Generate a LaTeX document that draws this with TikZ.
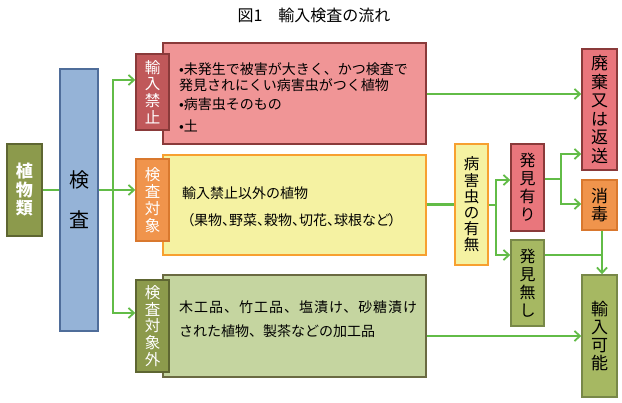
\documentclass[tikz,border=0pt]{standalone}
\usepackage{fontspec}
\setmainfont{Noto Sans CJK JP}
\newfontfamily\jpp[RawFeature=+palt]{Noto Sans CJK JP}
\usetikzlibrary{arrows.meta}
\definecolor{grn}{HTML}{62BC47}
\definecolor{oliveF}{HTML}{8C9A4C}\definecolor{oliveD}{HTML}{5E6632}
\definecolor{blueF}{HTML}{95B3D7}\definecolor{blueD}{HTML}{4F6D9A}
\definecolor{redT}{HTML}{C0585A}\definecolor{redD}{HTML}{8A3A3A}
\definecolor{pinkF}{HTML}{F09596}
\definecolor{orgF}{HTML}{F0944C}\definecolor{orgD}{HTML}{D9782E}
\definecolor{yelF}{HTML}{F5F2A2}\definecolor{yelD}{HTML}{F7A030}
\definecolor{lgF}{HTML}{C5D5A0}\definecolor{lgD}{HTML}{6A6A42}
\definecolor{rosF}{HTML}{E9767C}
\definecolor{mgF}{HTML}{A6B862}\definecolor{mgD}{HTML}{788848}
\tikzset{
  bx/.style={draw, line width=1.4pt, inner sep=0pt, align=center},
  body/.style={inner sep=0pt, anchor=west, font=\fontsize{14}{16}\selectfont},
  ln/.style={draw=grn, line width=1.8pt},
  ar/.style={ln, -{Straight Barb[length=5.5pt,width=10pt]}},
  ar2/.style={ln, {Straight Barb[length=5.5pt,width=10pt]}-{Straight Barb[length=5.5pt,width=10pt]}},
}
\newcommand{\vtext}[2]{\fontsize{#1}{#2}\selectfont}
\begin{document}
\begin{tikzpicture}[x=1pt,y=-1pt]
\useasboundingbox (0,0) rectangle (622,403);
\fill[white] (0,0) rectangle (622,403);
% title
\node[inner sep=0pt, font=\fontsize{16}{16}\selectfont] (title) at (314,15) {図1　輸入検査の流れ};
% left nodes
\node[bx, fill=oliveF, draw=oliveD, minimum width=35pt, minimum height=92pt, text=white, font=\bfseries\vtext{17}{18.5}] (plants) at (24.5,190) {植\\物\\類};
\node[bx, fill=blueF, draw=blueD, minimum width=38pt, minimum height=262pt, font=\vtext{20}{40}] (kensa) at (79,200) {検\\査};
% big boxes
\node[bx, fill=pinkF, draw=redD, minimum width=263pt, minimum height=101pt] (pinkbox) at (294.5,93.5) {};
\node[bx, fill=yelF, draw=yelD, minimum width=263pt, minimum height=100pt] (yelbox) at (294.5,205) {};
\node[bx, fill=lgF, draw=lgD, minimum width=263pt, minimum height=102pt] (grnbox) at (294.5,326) {};
% tabs
\node[bx, fill=redT, draw=redD, minimum width=33pt, minimum height=76pt, text=white, font=\vtext{15.5}{16.8}] (tabA) at (152.5,92) {輸\\入\\禁\\止};
\node[bx, fill=orgF, draw=orgD, minimum width=33pt, minimum height=82pt, text=white, font=\vtext{15.5}{16.8}] (tabB) at (152.5,200) {検\\査\\対\\象};
\node[bx, fill=oliveF, draw=oliveD, minimum width=33pt, minimum height=92pt, text=white, font=\vtext{15.5}{16.8}] (tabC) at (152.5,326) {検\\査\\対\\象\\外};
% box texts
\node[body] (pA1) at (179,69) {•未発生で被害が大きく、かつ検査で};
\node[body] (pA2) at (179,85) {発見されにくい病害虫がつく植物};
\node[body] (pA3) at (179,104) {•病害虫そのもの};
\node[body] (pA4) at (179,126) {•土};
\node[body] (pB1) at (182,193) {輸入禁止以外の植物};
\node[body, font=\jpp\fontsize{14}{16}\selectfont] (pB2) at (187,220) {（果物、野菜、穀物、切花、球根など）};
\node[body, font=\fontsize{14}{16}\selectfont\addfontfeature{LetterSpace=7}] (pC1) at (179,307) {木工品、竹工品、塩漬け、砂糖漬け};
\node[body] (pC2) at (179,331) {された植物、製茶などの加工品};
% right side
\node[bx, fill=yelF, draw=yelD, minimum width=33pt, minimum height=121pt, font=\vtext{15.5}{16.2}] (byo) at (471.5,204.5) {病\\害\\虫\\の\\有\\無};
\node[bx, fill=rosF, draw=redD, minimum width=33pt, minimum height=87pt, font=\vtext{16}{18}] (ari) at (527.5,187.5) {発\\見\\有\\り};
\node[bx, fill=mgF, draw=mgD, minimum width=33pt, minimum height=86pt, font=\vtext{16}{18}] (nashi) at (527.5,283) {発\\見\\無\\し};
\node[bx, fill=rosF, draw=redD, minimum width=35pt, minimum height=121pt, font=\vtext{17}{18.5}] (haiki) at (599.5,109.5) {廃\\棄\\又\\は\\返\\送};
\node[bx, fill=orgF, draw=orgD, minimum width=35pt, minimum height=50pt, font=\vtext{17}{18.5}] (shodoku) at (599.5,205) {消\\毒};
\node[bx, fill=mgF, draw=mgD, minimum width=35pt, minimum height=122pt, font=\vtext{17}{18}] (yunyu) at (599.5,336) {輸\\入\\可\\能};
% coordinates
\coordinate (vt) at (113,80);
\coordinate (vb) at (113,313);
\coordinate (s1) at (496,205);
\coordinate (s2) at (561,179);
\coordinate (s3) at (602,255);
% connectors
\draw[ln] (plants.east) -- (kensa.west |- plants.east);
\draw[ar] (kensa.east |- plants.east) -- (tabB.west |- plants.east);
\draw[ar2] (vt -| tabA.west) -- (vt) -- (vb) -- (vb -| tabC.west);
\draw[ar] (pinkbox.east |- 0,94) -- (haiki.west |- 0,94);
\draw[ln, line width=3pt] (yelbox.east) -- (byo.west |- yelbox.east);
\draw[ln, line width=2.5pt] (byo.east |- s1) -- (s1);
\draw[ar2] (ari.west |- 0,180) -- (s1 |- 0,180) -- (s1 |- 0,255) -- (nashi.west |- 0,255);
\draw[ln] (ari.east |- s2) -- (s2);
\draw[ar2] (haiki.west |- 0,154) -- (s2 |- 0,154) -- (s2 |- 0,204) -- (shodoku.west |- 0,204);
\draw[ln] (nashi.east |- s3) -- (s3);
\draw[ar] (shodoku.south -| s3) -- (yunyu.north -| s3);
\draw[ar] (grnbox.east |- 0,336) -- (yunyu.west |- 0,336);
\end{tikzpicture}
\end{document}
